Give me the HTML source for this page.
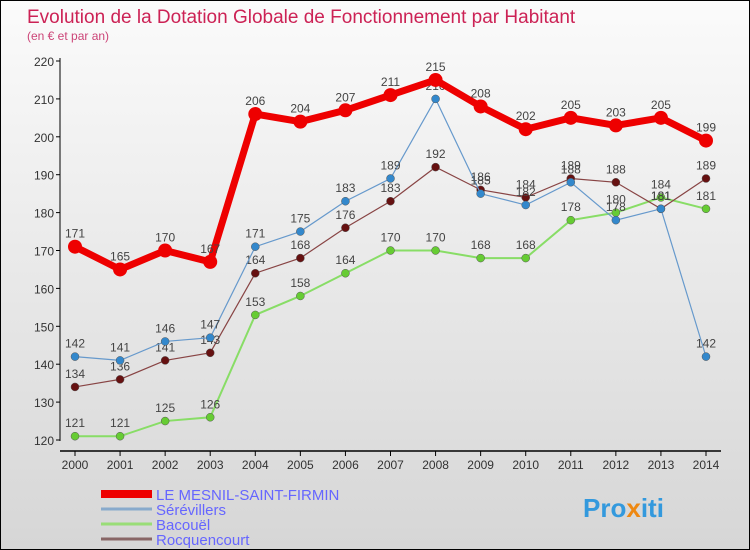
<!DOCTYPE html>
<html><head><meta charset="utf-8"><style>
body{margin:0}
#c{width:748px;height:548px;border:1px solid #000;position:relative;background:linear-gradient(#fbfbfb,#d6d6d6);font-family:"Liberation Sans",sans-serif;overflow:hidden}
svg text{font-family:"Liberation Sans",sans-serif}
</style></head><body>
<div id="c">
<svg width="748" height="548" id="s">
<text x="26" y="22" font-size="19" fill="#cc2255">Evolution de la Dotation Globale de Fonctionnement par Habitant</text>
<text x="26" y="39" font-size="12" fill="#cc4477">(en € et par an)</text>
<g id="axes"></g><g id="series"></g><g id="legend"></g>
<text x="582" y="516" font-size="26" font-weight="bold" fill="#3399dd">Pro<tspan fill="#ee8811">x</tspan>iti</text>
</svg></div>
<script>
const years=[2000,2001,2002,2003,2004,2005,2006,2007,2008,2009,2010,2011,2012,2013,2014];
const yTicks=[120,130,140,150,160,170,180,190,200,210,220];
const seriesNames=["LE MESNIL-SAINT-FIRMIN","Sérévillers","Bacouël","Rocquencourt"];
const mesnil=[171,165,170,167,206,204,207,211,215,208,202,205,203,205,199];
const serevillers=[142,141,146,147,171,175,183,189,210,185,182,188,178,181,142];
const bacouel=[121,121,125,126,153,158,164,170,170,168,168,178,180,184,181];
const rocquencourt=[134,136,141,143,164,168,176,183,192,186,184,189,188,181,189];
const NS="http://www.w3.org/2000/svg";
const x=i=>74+i*(631/14);
const y=v=>439-(v-120)*3.79;
function mk(t,a,p){const e=document.createElementNS(NS,t);for(const k in a)e.setAttribute(k,a[k]);p.appendChild(e);return e;}
const ax=document.getElementById('axes');
let l=mk('line',{x1:59,y1:57,x2:59,y2:440,stroke:'#000'},ax);


l=mk('line',{x1:59,y1:450,x2:720,y2:450,stroke:'#000','stroke-width':1.5},ax);


yTicks.forEach(v=>{mk('line',{x1:55,x2:59,y1:y(v),y2:y(v),stroke:'#000'},ax);
const t=mk('text',{x:53,y:y(v)+5,'font-size':12,fill:'#333','text-anchor':'end'},ax);t.textContent=v;

});
years.forEach((yr,i)=>{mk('line',{x1:x(i),x2:x(i),y1:450,y2:455,stroke:'#000'},ax);
const t=mk('text',{x:x(i),y:468,'font-size':12,fill:'#333','text-anchor':'middle'},ax);t.textContent=yr;

});
const sg=document.getElementById('series');
const defs=[[bacouel,'#88dd66','#66cc33',2,4],[rocquencourt,'#884444','#661111',1.2,4],[serevillers,'#6699cc','#3388cc',1.2,4],[mesnil,'#ee0000','#ee0000',7,7]];
const names=['series-bacouel','series-rocquencourt','series-serevillers','series-le-mesnil'];
defs.forEach((d,si)=>{const [vals,lc,pc,w,r]=d;
const p=mk('polyline',{points:vals.map((v,i)=>x(i)+','+y(v)).join(' '),fill:'none',stroke:lc,'stroke-width':w},sg);


vals.forEach((v,i)=>{const c=mk('circle',{cx:x(i),cy:y(v),r:r,fill:pc,stroke:si==3?'none':'#555','stroke-width':0.5},sg);


const t=mk('text',{x:x(i),y:y(v)-9,'font-size':12,fill:'#444','text-anchor':'middle'},sg);t.textContent=v;

});});
const lg=document.getElementById('legend');
const lcol=['#ee0000','#88aacc','#99dd77','#886666'],lw=[8,3,3,3];
seriesNames.forEach((n,i)=>{const yy=493+i*15;
const ln=mk('line',{x1:100,x2:151,y1:yy,y2:yy,stroke:lcol[i],'stroke-width':lw[i]},lg);


const t=mk('text',{x:155,y:yy+6,'font-size':15,fill:'#6666ff'},lg);t.textContent=n;

});
</script></body></html>
